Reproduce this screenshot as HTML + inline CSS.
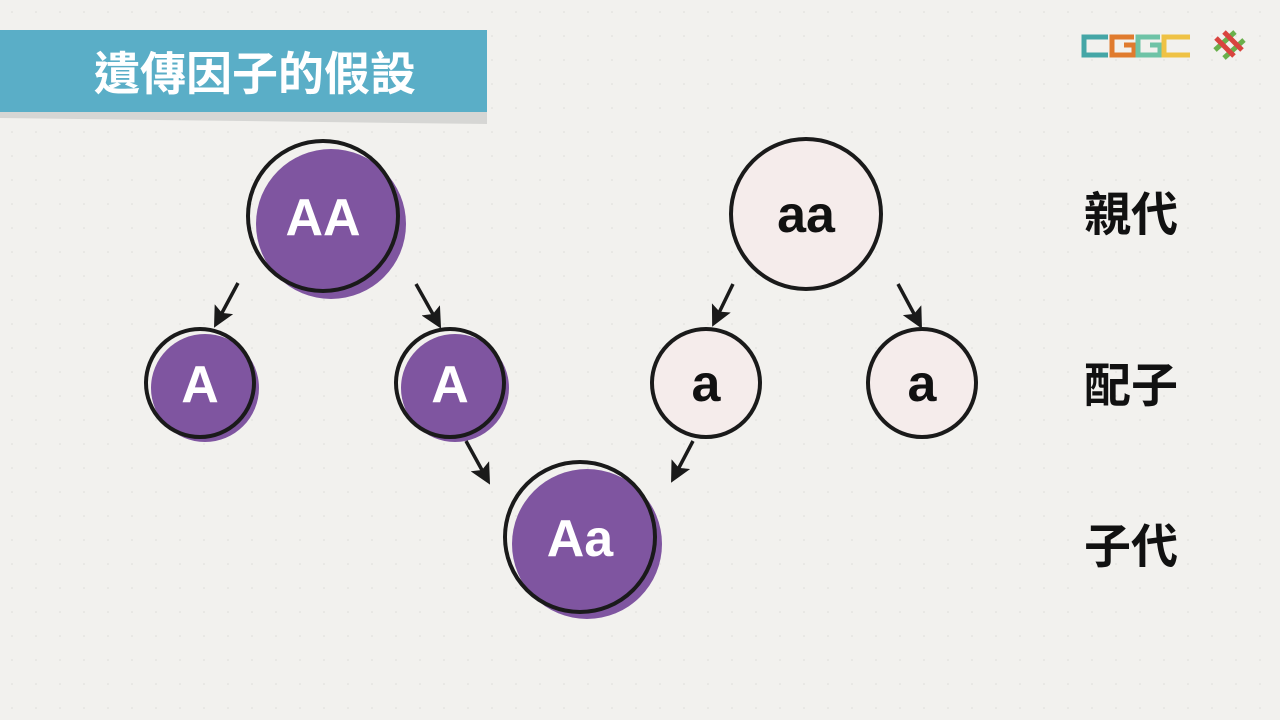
<!DOCTYPE html>
<html><head><meta charset="utf-8"><style>
html,body{margin:0;padding:0;}
body{width:1280px;height:720px;overflow:hidden;background:#f2f1ee;}
svg text{font-family:"Liberation Sans","Noto Sans CJK TC",sans-serif;font-weight:bold;}
</style></head><body>
<svg width="1280" height="720" viewBox="0 0 1280 720" xmlns="http://www.w3.org/2000/svg" style="display:block">
<defs>
<pattern id="dots" width="24" height="24" patternUnits="userSpaceOnUse"><circle cx="12" cy="12" r="0.8" fill="#dddcd8"/></pattern>
<marker id="ah" viewBox="0 0 10 10" refX="8" refY="5" markerWidth="6" markerHeight="6" orient="auto"><path d="M0,0 L10,5 L0,10 L2,5 z" fill="#1a1a1a"/></marker>
</defs>
<rect width="1280" height="720" fill="url(#dots)"/>
<path d="M0,104 L487,110 L487,124 L0,118 z" fill="#d6d6d4"/>
<rect x="0" y="30" width="487" height="82" fill="#5aaec7"/>
<text x="94" y="90" font-size="46" fill="#fff">遺傳因子的假設</text>
<g fill="none" stroke-width="5">
<path d="M1108,37 H1084 V55 H1108" stroke="#45a6a6"/>
<path d="M1134,37 H1112 V55 H1134 V45 H1124" stroke="#e07b2e"/>
<path d="M1160,37 H1138 V55 H1160 V45 H1150" stroke="#6ec3a6"/>
<path d="M1190,37 H1164 V55 H1190" stroke="#efc245"/>
</g>
<g stroke-width="5">
<line x1="1215" y1="50" x2="1235" y2="32" stroke="#6ab04c"/>
<line x1="1224" y1="58" x2="1244" y2="40" stroke="#6ab04c"/>
<line x1="1216" y1="38" x2="1234" y2="56" stroke="#d9443f"/>
<line x1="1224" y1="32" x2="1242" y2="50" stroke="#d9443f"/>
</g>
<g stroke="#1a1a1a" stroke-width="4">
<circle cx="331" cy="224" r="75" fill="#7f55a0" stroke="none"/>
<circle cx="323" cy="216" r="75" fill="none"/>
<circle cx="806" cy="214" r="75" fill="#f5eceb"/>
<circle cx="205" cy="388" r="54" fill="#7f55a0" stroke="none"/>
<circle cx="200" cy="383" r="54" fill="none"/>
<circle cx="455" cy="388" r="54" fill="#7f55a0" stroke="none"/>
<circle cx="450" cy="383" r="54" fill="none"/>
<circle cx="706" cy="383" r="54" fill="#f5eceb"/>
<circle cx="922" cy="383" r="54" fill="#f5eceb"/>
<circle cx="587" cy="544" r="75" fill="#7f55a0" stroke="none"/>
<circle cx="580" cy="537" r="75" fill="none"/>
</g>
<g stroke="#1a1a1a" stroke-width="3.5" marker-end="url(#ah)">
<line x1="238" y1="283" x2="216" y2="324"/>
<line x1="416" y1="284" x2="439" y2="325"/>
<line x1="733" y1="284" x2="714" y2="323"/>
<line x1="898" y1="284" x2="920" y2="325"/>
<line x1="466" y1="441" x2="488" y2="481"/>
<line x1="693" y1="441" x2="673" y2="479"/>
</g>
<g font-size="52" text-anchor="middle">
<text x="323" y="235" fill="#fff">AA</text>
<text x="806" y="232" fill="#111">aa</text>
<text x="200" y="402" fill="#fff">A</text>
<text x="450" y="402" fill="#fff">A</text>
<text x="706" y="401" fill="#111">a</text>
<text x="922" y="401" fill="#111">a</text>
<text x="580" y="556" fill="#fff">Aa</text>
</g>
<g font-size="47" fill="#111">
<text x="1084" y="231">親代</text>
<text x="1084" y="402">配子</text>
<text x="1084" y="563">子代</text>
</g>
</svg>
</body></html>
